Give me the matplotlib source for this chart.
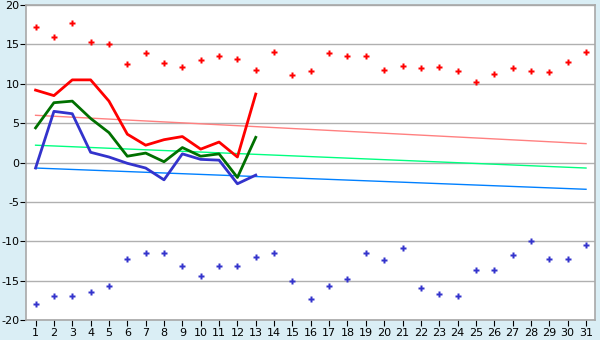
import matplotlib
matplotlib.use("Agg")
import matplotlib.pyplot as plt

plt.rcParams["axes.unicode_minus"] = False

# days of the month
days = list(range(1, 32))

# daily max / min markers
max_points = [17.2, 16.0, 17.7, 15.3, 15.0, 12.5, 13.9, 12.7, 12.1, 13.0, 13.5, 13.1, 11.7,
              14.0, 11.1, 11.6, 13.9, 13.5, 13.5, 11.8, 12.3, 12.0, 12.1, 11.6, 10.2, 11.2,
              12.0, 11.6, 11.5, 12.8, 14.0]
min_points = [-18.0, -16.9, -17.0, -16.5, -15.7, -12.2, -11.5, -11.5, -13.2, -14.4, -13.1,
              -13.2, -12.0, -11.5, -15.1, -17.4, -15.7, -14.8, -11.5, -12.4, -10.8, -16.0,
              -16.7, -17.0, -13.7, -13.7, -11.8, -10.0, -12.2, -12.2, -10.5]

# measured series, days 1-13
line_days = days[:13]
red_line = [9.2, 8.5, 10.5, 10.5, 7.8, 3.6, 2.2, 2.9, 3.3, 1.7, 2.6, 0.7, 8.7]
green_line = [4.4, 7.6, 7.8, 5.6, 3.8, 0.8, 1.2, 0.1, 1.9, 0.8, 1.1, -1.9, 3.2]
blue_line = [-0.7, 6.5, 6.2, 1.3, 0.7, -0.1, -0.7, -2.2, 1.1, 0.4, 0.3, -2.7, -1.6]

# trend lines (value at day 1, value at day 31)
red_trend = [6.0, 2.4]
green_trend = [2.2, -0.7]
blue_trend = [-0.7, -3.4]

fig = plt.figure(figsize=(6, 3.4), dpi=100)
fig.patch.set_facecolor("#daeef5")
ax = fig.add_axes([0.044, 0.059, 0.948, 0.926])
ax.set_facecolor("white")

# trends
ends = [days[0], days[-1]]
ax.plot(ends, red_trend, color="#ff8080", lw=1, zorder=2)
ax.plot(ends, green_trend, color="#00ff80", lw=1, zorder=2)
ax.plot(ends, blue_trend, color="#0080ff", lw=1, zorder=2)

# series
ax.plot(line_days, red_line, color="#ff0000", lw=2, zorder=3)
ax.plot(line_days, green_line, color="#007000", lw=2, zorder=3)
ax.plot(line_days, blue_line, color="#3333cc", lw=2, zorder=3)

# markers
ax.plot(days, max_points, ls="none", marker="P", ms=5, color="#ff0000", mec="none", zorder=4)
ax.plot(days, min_points, ls="none", marker="P", ms=5, color="#3333cc", mec="none", zorder=4)

ax.set_xlim(0.5, 31.5)
ax.set_ylim(-20, 20)
ax.set_xticks(days)
ax.set_yticks(range(-20, 21, 5))
ax.yaxis.grid(True, color="#b0b0b0", lw=1)
ax.set_axisbelow(True)
for s in ax.spines.values():
    s.set_color("#a8a8a8")
    s.set_linewidth(1.2)
ax.tick_params(axis="both", labelsize=8, length=4, color="black", pad=2)
ax.tick_params(axis="y", pad=1)

fig.savefig("out.png", dpi=100)
